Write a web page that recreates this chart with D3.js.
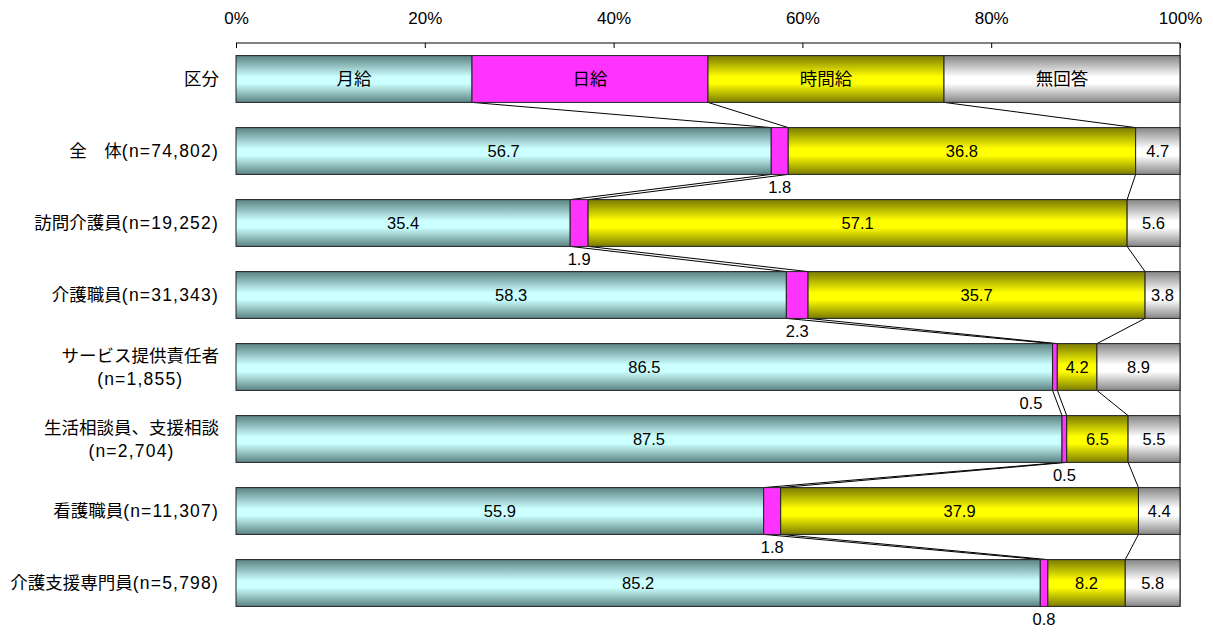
<!DOCTYPE html>
<html><head><meta charset="utf-8">
<script src="https://cdn.jsdelivr.net/npm/d3@7"></script>
<style>
body{margin:0;background:#fff;}
text{font-family:"Liberation Sans",Arial,"Noto Sans CJK JP",sans-serif;fill:#000;}
</style></head>
<body><svg id="c" width="1213" height="632"></svg>
<script>
const categories = ["区分","全\u3000体(n=74,802)","訪問介護員(n=19,252)","介護職員(n=31,343)","サービス提供責任者\n(n=1,855)","生活相談員、支援相談\n(n=2,704)","看護職員(n=11,307)","介護支援専門員(n=5,798)"];
const seriesNames = ["月給","日給","時間給","無回答"];
const monthly = [25, 56.7, 35.4, 58.3, 86.5, 87.5, 55.9, 85.2];
const daily   = [25, 1.8, 1.9, 2.3, 0.5, 0.5, 1.8, 0.8];
const hourly  = [25, 36.8, 57.1, 35.7, 4.2, 6.5, 37.9, 8.2];
const noAnswer= [25, 4.7, 5.6, 3.8, 8.9, 5.5, 4.4, 5.8];
const tickValues = [0,20,40,60,80,100];

const svg = d3.select("#c");
const x = d3.scaleLinear().domain([0,100]).range([236,1180]).clamp(true);
const y = d3.scaleBand().domain(categories).range([43,619]).paddingInner(0.35).paddingOuter(0.175);

// gradients
const defs = svg.append("defs");
function grad(id, edge, mid){
  const g = defs.append("linearGradient").attr("id",id).attr("x1",0).attr("x2",0).attr("y1",0).attr("y2",1);
  g.append("stop").attr("offset","0%").attr("stop-color",edge);
  g.append("stop").attr("offset","45%").attr("stop-color",mid);
  g.append("stop").attr("offset","60%").attr("stop-color",mid);
  g.append("stop").attr("offset","100%").attr("stop-color",edge);
}
grad("gc","#5a8282","#ccffff");
grad("gy","#7a7a00","#ffff00");
grad("gg","#858585","#ffffff");
const fills = ["url(#gc)","#ff33ff","url(#gy)","url(#gg)"];

const data = categories.map((c,i)=>{
  const vals = [monthly[i],daily[i],hourly[i],noAnswer[i]];
  let cum = 0;
  const segs = vals.map((v,k)=>{const s={cat:c,row:i,k,v,x0:cum,x1:cum+v}; cum+=v; return s;});
  return {cat:c,row:i,segs};
});

// axis
const axis = d3.axisTop(x).tickValues(tickValues).tickFormat(d=>d+"%").tickSize(-5).tickPadding(0);
const ax = svg.append("g").attr("transform","translate(0,43)").call(axis);
ax.select(".domain").attr("d","M236,0H1180").attr("stroke","#000");
ax.selectAll(".tick line").attr("stroke","#000");
ax.selectAll(".tick text").attr("y",-19).attr("font-size",17).attr("font-family","'Liberation Sans',Arial,sans-serif");

// right border
svg.append("line").attr("x1",x(100)).attr("x2",x(100)).attr("y1",43).attr("y2",y(categories[categories.length-1])+y.bandwidth()).attr("stroke","#000");

// connectors
const conn = svg.append("g");
for(let i=0;i<data.length-1;i++){
  for(let k=0;k<3;k++){
    const a = data[i].segs[k].x1, b = data[i+1].segs[k].x1;
    conn.append("line").attr("x1",x(a)).attr("y1",y(data[i].cat)+y.bandwidth())
      .attr("x2",x(b)).attr("y2",y(data[i+1].cat)).attr("stroke","#000").attr("stroke-width",1);
  }
}

// bars
const rows = svg.append("g").selectAll("g").data(data).join("g");
rows.selectAll("rect").data(d=>d.segs).join("rect")
  .attr("x",d=>x(d.x0)).attr("width",d=>x(d.x1)-x(d.x0))
  .attr("y",d=>y(d.cat)).attr("height",y.bandwidth())
  .attr("fill",d=>fills[d.k]).attr("stroke","#222").attr("stroke-width",1);

// segment labels
rows.selectAll("text.v").data(d=>d.segs).join("text").attr("class","v")
  .attr("font-size",d=>d.row===0?17.5:16.5)
  .attr("text-anchor","middle")
  .attr("x",d=>{let cx=(x(d.x0)+x(d.x1))/2; if(d.k===1 && d.row===4) cx-=24; return cx;})
  .attr("y",d=>{
    if(d.k===1 && d.row>0) return y(d.cat)+y.bandwidth()+19;
    return y(d.cat)+y.bandwidth()/2+6;
  })
  .text(d=>d.row===0?seriesNames[d.k]:d.v.toFixed(1));

// category labels
const lab = svg.append("g");
const rightEdge = 219;
categories.forEach(c=>{
  const lines = c.split("\n");
  const cy = y(c)+y.bandwidth()/2;
  const texts = lines.map((ln,j)=>{
    const t = lab.append("text").attr("font-size",17.5).attr("text-anchor","end")
      .attr("x",rightEdge).attr("y",cy+6+(j-(lines.length-1)/2)*23);
    const m = ln.match(/^([^(]*)(\(.*\))?$/);
    t.append("tspan").text(m[1]);
    if(m[2]) t.append("tspan").attr("letter-spacing","1.2").text(m[2]);
    return t;
  });
  if(texts.length>1){
    const widths = texts.map(t=>t.node().getComputedTextLength());
    const maxW = Math.max(...widths);
    const center = rightEdge - maxW/2;
    texts.forEach(t=>t.attr("text-anchor","middle").attr("x",center));
  }
});
</script></body></html>
